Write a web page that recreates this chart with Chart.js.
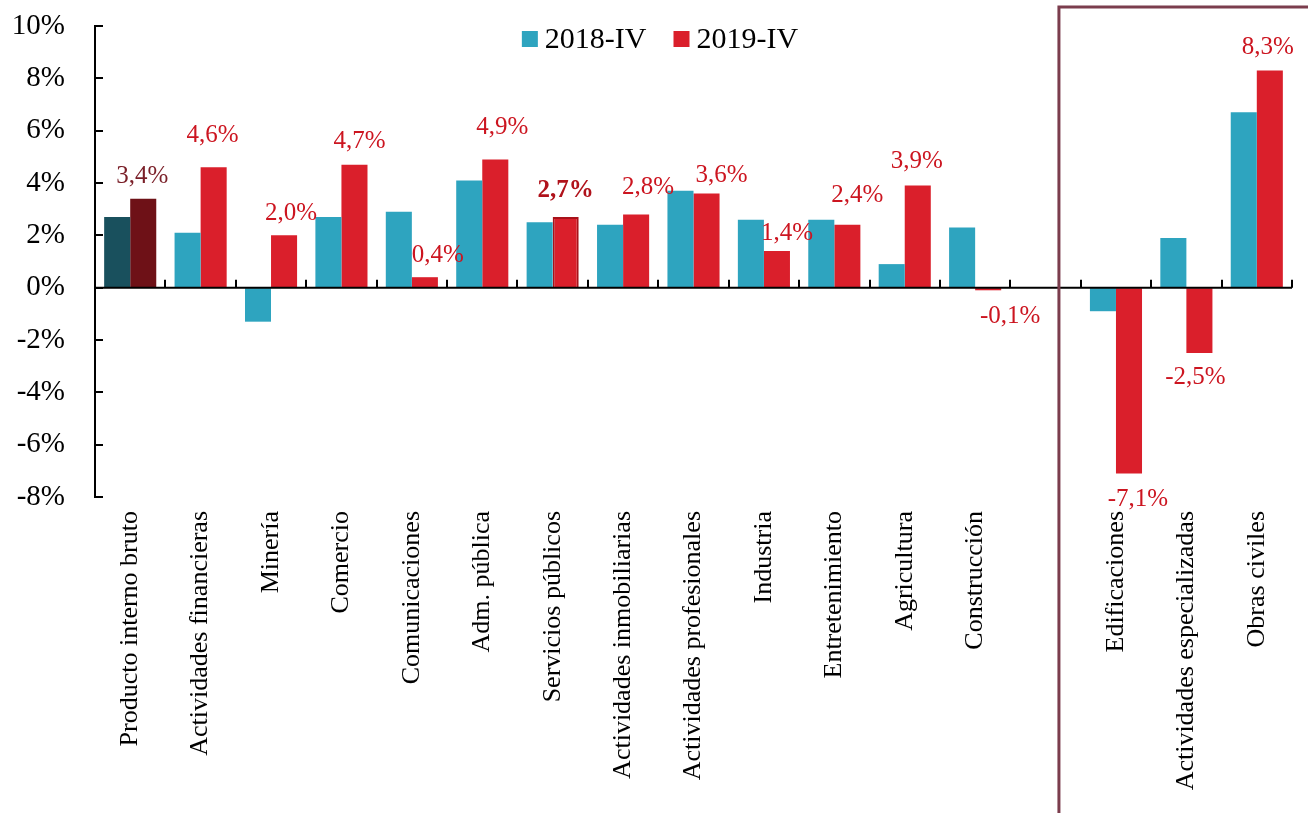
<!DOCTYPE html>
<html>
<head>
<meta charset="utf-8">
<script src="https://cdn.jsdelivr.net/npm/chart.js@4.4.0/dist/chart.umd.min.js"></script>
<style>
  html, body { margin: 0; padding: 0; background: #fff; }
  #wrap { width: 1308px; height: 813px; }
</style>
</head>
<body>
<div id="wrap"><canvas id="chart"></canvas></div>
<script>
// categories and values (growth, %)
const categories = [
	"Producto interno bruto", "Actividades financieras", "Minería", "Comercio",
	"Comunicaciones", "Adm. pública", "Servicios públicos", "Actividades inmobiliarias",
	"Actividades profesionales", "Industria", "Entretenimiento", "Agricultura",
	"Construcción", "", "Edificaciones", "Actividades especializadas", "Obras civiles"
];
const seriesNames = ["2018-IV", "2019-IV"];
const values2018 = [2.7, 2.1, -1.3, 2.7, 2.9, 4.1, 2.5, 2.4, 3.7, 2.6, 2.6, 0.9, 2.3, null, -0.9, 1.9, 6.7];
const values2019 = [3.4, 4.6, 2.0, 4.7, 0.4, 4.9, 2.7, 2.8, 3.6, 1.4, 2.4, 3.9, -0.1, null, -7.1, -2.5, 8.3];
const yTicks = [-8, -6, -4, -2, 0, 2, 4, 6, 8, 10];

// hand nudges for the value labels [dx, dy], like the original layout
const labelNudge = [
	[-1, 1], [-1, -9], [7, 1], [5, 0], [13, 1], [7, -9], [0, -3], [12, -4], [15, 5],
	[10, 5], [10, -6], [-1, -1], [22, 1], [0, 0], [9, 1], [-4, -1], [-2, 0]
];

const TEAL = "#2ea4bf", RED = "#da1f2b";
const TEAL_DARK = "#19505d", RED_DARK = "#6e1117";
const LABEL_RED = "#cc1520";

function fmt(v) {
	return v.toFixed(1).replace(".", ",") + "%";
}

const colors2018 = categories.map((c, i) => (i === 0 ? TEAL_DARK : TEAL));
const colors2019 = categories.map((c, i) => (i === 0 ? RED_DARK : RED));
const border2019 = categories.map((c, i) => (i === 6 ? "#a8121a" : RED));
const borderW2019 = categories.map((c, i) => (i === 6 ? 2 : 0));

const overlayPlugin = {
	id: "overlay",
	afterDatasetsDraw(chart) {
		const ctx = chart.ctx;
		const xs = chart.scales.x, ys = chart.scales.y;
		const area = chart.chartArea;
		const zeroY = ys.getPixelForValue(0);
		const step = xs.getPixelForValue(1) - xs.getPixelForValue(0);
		ctx.save();

		// zero line with tick marks between categories
		ctx.strokeStyle = "#000";
		ctx.lineWidth = 2;
		ctx.beginPath();
		ctx.moveTo(area.left, zeroY);
		ctx.lineTo(area.right, zeroY);
		for (let k = 1; k <= categories.length; k++) {
			const px = Math.round(xs.getPixelForValue(k - 0.5));
			ctx.moveTo(px, zeroY);
			ctx.lineTo(px, zeroY - 8);
		}
		// inside ticks on the y axis
		yTicks.forEach((t) => {
			const py = Math.round(ys.getPixelForValue(t));
			ctx.moveTo(area.left, py);
			ctx.lineTo(area.left + 8, py);
		});
		ctx.stroke();

		// value labels for 2019
		ctx.textAlign = "center";
		ctx.textBaseline = "middle";
		const meta = chart.getDatasetMeta(1);
		values2019.forEach((v, i) => {
			if (v === null) return;
			const bar = meta.data[i];
			const n = labelNudge[i];
			const ly = v >= 0 ? bar.y - 23 + n[1] : bar.y + 25 + n[1];
			let color = LABEL_RED, weight = "normal";
			if (i === 0) color = "#7a1f28";
			if (i === 6) { color = "#b0121b"; weight = "bold"; }
			ctx.fillStyle = color;
			ctx.font = weight + " 25px 'Liberation Serif'";
			ctx.fillText(fmt(v), bar.x + n[0], ly);
		});

		// framed box around the construction breakdown
		const boxX = xs.getPixelForValue(13) + step * 0.19;
		ctx.strokeStyle = "#7b3d4d";
		ctx.lineWidth = 3;
		ctx.beginPath();
		ctx.moveTo(boxX, chart.height);
		ctx.lineTo(boxX, 7);
		ctx.lineTo(chart.width, 7);
		ctx.stroke();

		// legend
		ctx.font = "30px 'Liberation Serif'";
		ctx.textAlign = "left";
		const swatch = 16, gap = 7, itemGap = 27;
		const legendColors = [TEAL, RED];
		const widths = seriesNames.map((s) => swatch + gap + ctx.measureText(s).width);
		const total = widths[0] + widths[1] + itemGap;
		let lx = chart.width / 2 + 6 - total / 2;
		const cy = 40;
		seriesNames.forEach((s, i) => {
			ctx.fillStyle = legendColors[i];
			ctx.fillRect(lx, cy - 9, swatch, swatch);
			ctx.fillStyle = "#000";
			ctx.fillText(s, lx + swatch + gap, cy);
			lx += widths[i] + itemGap;
		});
		ctx.restore();
	}
};

Chart.defaults.font.family = "'Liberation Serif'";
Chart.defaults.color = "#000";

new Chart(document.getElementById("chart"), {
	type: "bar",
	data: {
		labels: categories,
		datasets: [
			{
				label: seriesNames[0],
				data: values2018,
				backgroundColor: colors2018,
				borderWidth: 0,
				barPercentage: 1,
				categoryPercentage: 0.74,
			},
			{
				label: seriesNames[1],
				data: values2019,
				backgroundColor: colors2019,
				borderColor: border2019,
				borderWidth: borderW2019,
				barPercentage: 1,
				categoryPercentage: 0.74,
			},
		],
	},
	options: {
		responsive: true,
		maintainAspectRatio: false,
		animation: false,
		layout: { padding: { left: 0, top: 26, right: 16, bottom: 0 } },
		plugins: { legend: { display: false }, tooltip: { enabled: false } },
		scales: {
			x: {
				grid: { display: false, drawTicks: false },
				border: { display: false },
				ticks: {
					autoSkip: false,
					minRotation: 90,
					maxRotation: 90,
					padding: 14,
					font: { size: 26 },
				},
				afterFit(scale) { scale.height = 316; },
			},
			y: {
				min: -8,
				max: 10,
				afterBuildTicks(scale) { scale.ticks = yTicks.map((v) => ({ value: v })); },
				grid: { display: true, drawOnChartArea: false, drawTicks: true, tickLength: 30, color: "rgba(0,0,0,0)" },
				border: { display: true, color: "#000", width: 2 },
				ticks: {
					padding: 0,
					font: { size: 29 },
					callback: (v) => v + "%",
				},
				afterFit(scale) { scale.width = 95; },
			},
		},
	},
	plugins: [overlayPlugin],
});
</script>
</body>
</html>
